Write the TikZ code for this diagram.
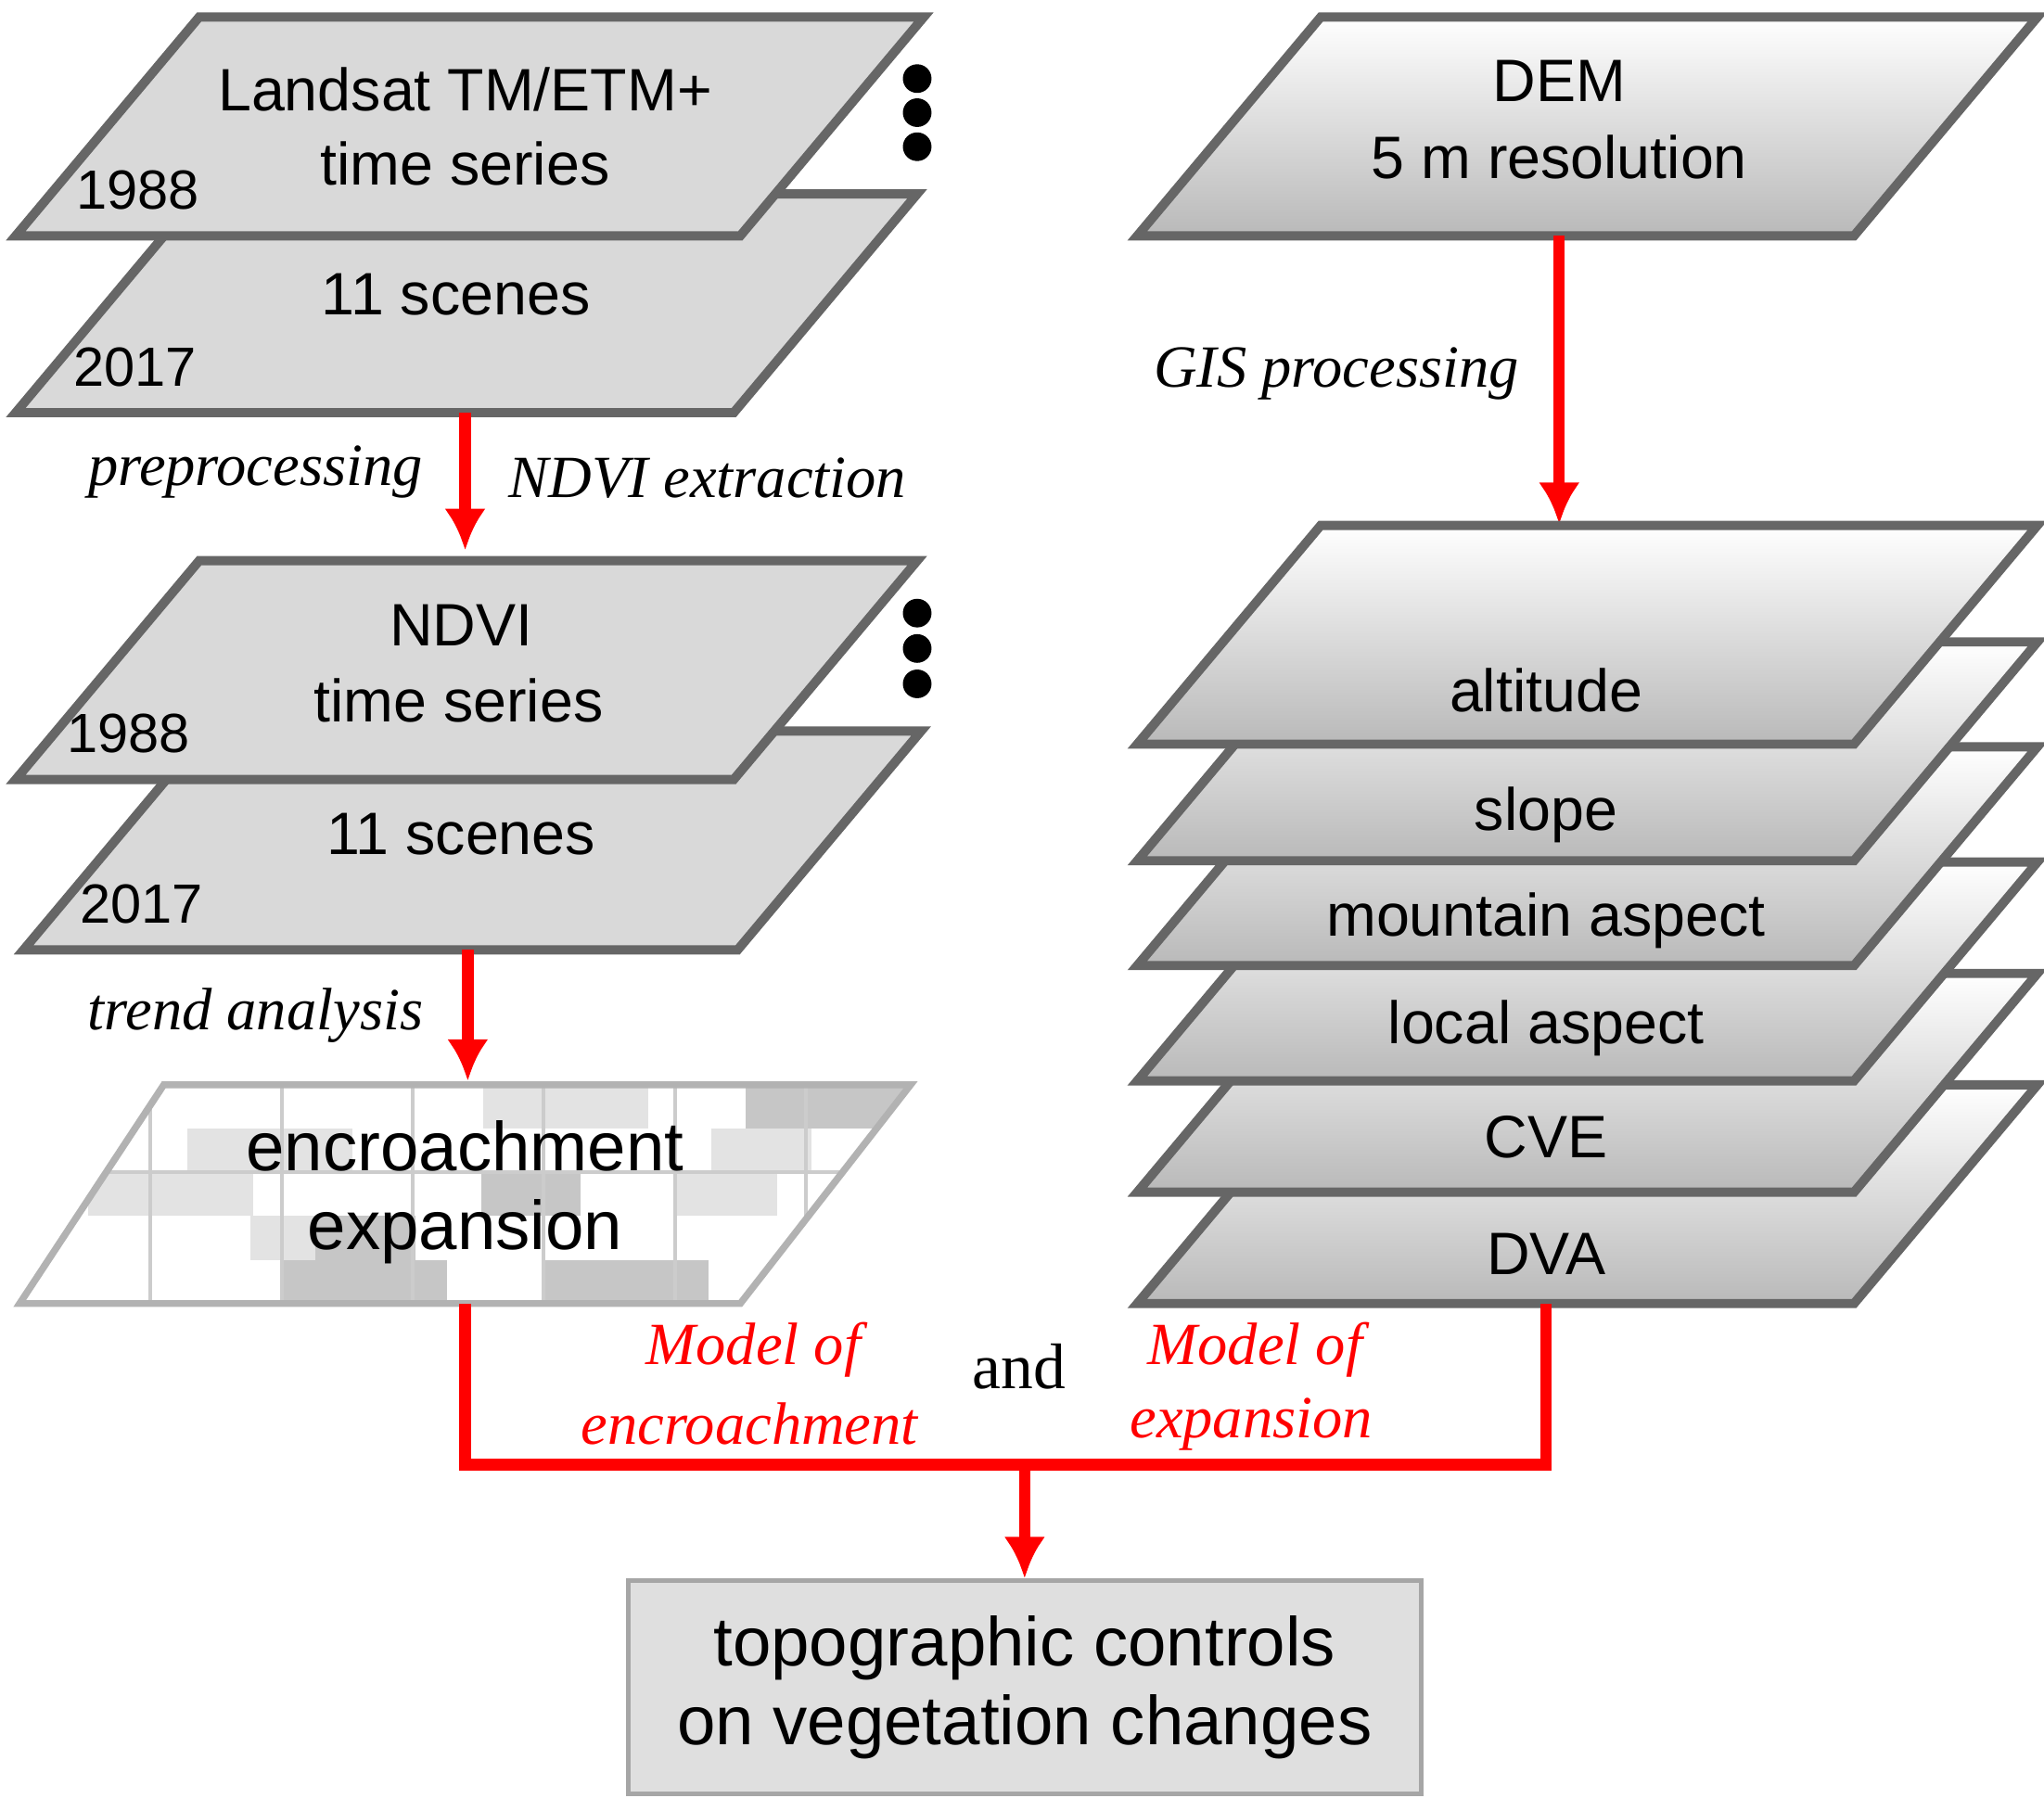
\documentclass[tikz,border=0pt]{standalone}
\usepackage{fontspec}
\setmainfont{Liberation Sans}
\newfontfamily\serif{Liberation Serif}
\usetikzlibrary{arrows.meta}
\tikzset{
  layer/.style = {draw=gray!80!black, line width=2pt, fill=gray!30},
  shadedLayer/.style = {draw=gray!80!black, line width=2pt, top color=white, bottom color=gray!55},
  txt/.style = {font=\fontsize{13}{15}\selectfont},
  big/.style = {font=\fontsize{15}{17}\selectfont},
  year/.style = {font=\fontsize{12}{14}\selectfont},
  procLabel/.style = {font=\serif\itshape\fontsize{13}{15}\selectfont},
  model/.style = {font=\serif\itshape\fontsize{13}{15}\selectfont, text=red},
  flowArrow/.style = {color=red, line width=2.5pt, -{Latex[length=9pt,width=9pt]}},
  modelLink/.style = {color=red, line width=2.5pt},
  dot/.style = {circle, fill=black, inner sep=2.2pt}
}
% #1: style, #2: bottom-left corner, #3: width
\newcommand{\layer}[3]{%
  \draw[#1] (#2) -- ++(#3,0) -- ++(140,-167) -- ++(-#3,0) -- cycle;
}
\begin{document}
\begin{tikzpicture}[x=0.1mm, y=-0.1mm]
  \useasboundingbox (0,0) rectangle (1560,1382);

  %==== Landsat ====
  \layer{layer}{12,315}{548}
  \layer{layer}{12,180}{553}
  \node[txt] (ls1) at (355,68) {Landsat TM/ETM+};
  \node[txt] (ls2) at (355,125) {time series};
  \node[year] (ly1) at (105,145) {1988};
  \node[txt] (ls3) at (348,225) {11 scenes};
  \node[year] (ly2) at (103,280) {2017};
  \foreach \y in {60,86,112} \node[dot] at (700,\y) {};
  \coordinate (lsS) at (355,315);

  %==== NDVI ====
  \layer{layer}{18,725}{545}
  \layer{layer}{12,595}{548}
  \node[txt] (nd1) at (352,477) {NDVI};
  \node[txt] (nd2) at (350,535) {time series};
  \node[year] (ny1) at (98,560) {1988};
  \node[txt] (nd3) at (352,637) {11 scenes};
  \node[year] (ny2) at (108,690) {2017};
  \foreach \y in {468,495,522} \node[dot] at (700,\y) {};
  \coordinate (ndN) at (355,420);
  \coordinate (ndS) at (357,725);

  \draw[flowArrow] (lsS) -- (ndN);
  \node[procLabel] (pre) at (195,360) {preprocessing};
  \node[procLabel] (ext) at (540,365) {NDVI extraction};

  %==== change map ====
  \begin{scope}
    \clip (15,995) -- (565,995) -- (695,828) -- (125,828) -- cycle;
    \fill[white] (15,995) -- (565,995) -- (695,828) -- (125,828) -- cycle;
    \begin{scope}[shift={(15,995)}, x={(0.5cm,0cm)}, y={(0.26cm,0.334cm)}]
      \foreach \c/\r in {0/2,1/2,1/3,2/3,5/4,6/4,9/3,9/2,3/1}
        \fill[gray!22] (\c,\r) rectangle ++(1,1);
      \foreach \c/\r in {4/0,5/0,4/1,9/4,10/4,8/0,9/0,6/2}
        \fill[gray!45] (\c,\r) rectangle ++(1,1);
      \draw[gray!40, line width=0.8pt] (0,0) grid (11,5);
    \end{scope}
  \end{scope}
  \draw[gray!60, line width=1.5pt] (15,995) -- (565,995) -- (695,828) -- (125,828) -- cycle;
  \node[big] (enc) at (355,875) {encroachment};
  \node[big] (exp) at (355,940) {expansion};
  \coordinate (mapN) at (357,825);
  \coordinate (mapS) at (355,995);

  \draw[flowArrow] (ndS) -- (mapN);
  \node[procLabel] (trend) at (195,775) {trend analysis};

  %==== DEM ====
  \layer{shadedLayer}{868,180}{547}
  \node[txt] (dem1) at (1190,62) {DEM};
  \node[txt] (dem2) at (1190,120) {5 m resolution};
  \coordinate (demS) at (1190,180);
  \coordinate (altN) at (1190,400);
  \draw[flowArrow] (demS) -- (altN);
  \node[procLabel] (gis) at (1020,285) {GIS processing};

  %==== topographic layers ====
  \foreach \yb in {995,910,825,737,657,568}
    \layer{shadedLayer}{868,\yb}{547}
  \node[txt] (alt) at (1180,527) {altitude};
  \node[txt] (slo) at (1180,622) {slope};
  \node[txt] (mas) at (1180,703) {mountain aspect};
  \node[txt] (las) at (1180,785) {local aspect};
  \node[txt] (cve) at (1180,868) {CVE};
  \node[txt] (dva) at (1180,957) {DVA};
  \coordinate (dvaS) at (1180,995);

  %==== models ====
  \node[draw=gray!70, line width=1pt, fill=gray!25, minimum width=60.5mm, minimum height=16.3mm,
        align=center, big] (topo) at (782,1288) {topographic controls\\on vegetation changes};
  \coordinate (m1) at (355,1118);
  \coordinate (m2) at (1180,1118);
  \coordinate (mid) at (782,1118);
  \draw[modelLink] (mapS) -- (m1) -- (m2) -- (dvaS);
  \draw[flowArrow] (mid) -- (topo.north);
  \node[model] (me1) at (575,1030) {Model of};
  \node[model] (me2) at (572,1087) {encroachment};
  \node[font=\serif\fontsize{14}{16}\selectfont] (and) at (778,1043) {and};
  \node[model] (mx1) at (958,1030) {Model of};
  \node[model] (mx2) at (955,1087) {expansion};
\end{tikzpicture}
\end{document}
